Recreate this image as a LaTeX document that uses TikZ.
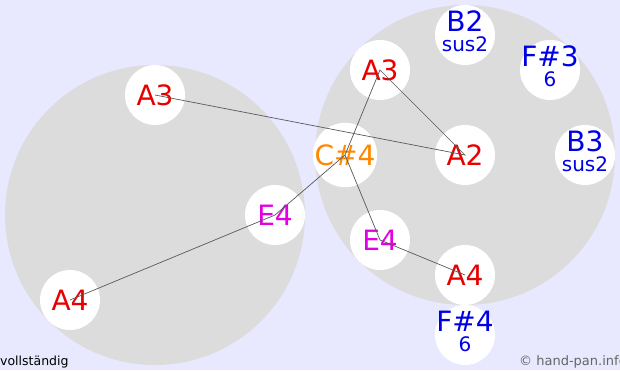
\documentclass[tikz,border=0pt]{standalone}
\usepackage{fontspec}
\setmainfont{DejaVu Sans}
\definecolor{bglav}{RGB}{232,232,255}
\definecolor{pangray}{RGB}{220,220,220}
\definecolor{notered}{RGB}{232,0,0}
\definecolor{noteorange}{RGB}{255,136,0}
\definecolor{notemagenta}{RGB}{228,0,228}
\definecolor{noteblue}{RGB}{0,0,228}
\newcommand{\subsize}{\fontsize{20}{20}\selectfont}

\begin{document}
\begin{tikzpicture}[x=1pt, y=-1pt,
                pan/.style={circle, fill=pangray, minimum size=300pt, inner sep=0pt},
                note/.style={circle, fill=white, minimum size=60pt, inner sep=0pt, align=center, font=\fontsize{28}{20}\selectfont},
                ding/.style={note, text=noteblue, text depth=7pt, inner sep=-10pt},
                link/.style={draw=black!65, line width=0.7pt}
            ]
                \clip (0,0) rectangle (620,370);
                \fill[bglav] (0,0) rectangle (620,370);
                \node[pan] (panL) at (155,215) {};
                \node[pan] (panR) at (465,155) {};
                \node[note, text=notered] (lA3) at (155,95) {A3};
                \node[note, text=notemagenta] (lE4) at (275,215) {E4};
                \node[note, text=notered] (lA4) at (70,300) {A4};
                \node[note, text=notered] (rA3) at (380,70) {A3};
                \node[ding] (rB2) at (465,35) {B2\\{\subsize sus2}};
                \node[ding] (rFs3) at (550,70) {F\#3\\{\subsize 6}};
                \node[note, text=noteorange] (rCs4) at (345,155) {C\#4};
                \node[note, text=notered] (rA2) at (465,155) {A2};
                \node[ding] (rB3) at (585,155) {B3\\{\subsize sus2}};
                \node[note, text=notemagenta] (rE4) at (380,240) {E4};
                \node[note, text=notered] (rA4) at (465,275) {A4};
                \node[ding] (rFs4) at (465,335) {F\#4\\{\subsize 6}};
                \draw[link] (lA3.center) -- (rA2.center) -- (rA3.center) -- (rCs4.center) -- (lE4.center) -- (lA4.center);
                \draw[link] (rCs4.center) -- (rE4.center) -- (rA4.center);
                \node[anchor=base west, font=\fontsize{12.5}{14}\selectfont, inner sep=0pt] (state) at (0,365) {vollständig};
                \node[anchor=base west, font=\fontsize{13}{14}\selectfont, text=black!60, inner sep=0pt] (credit) at (519,365) {© hand-pan.info};
            \end{tikzpicture}
\end{document}
